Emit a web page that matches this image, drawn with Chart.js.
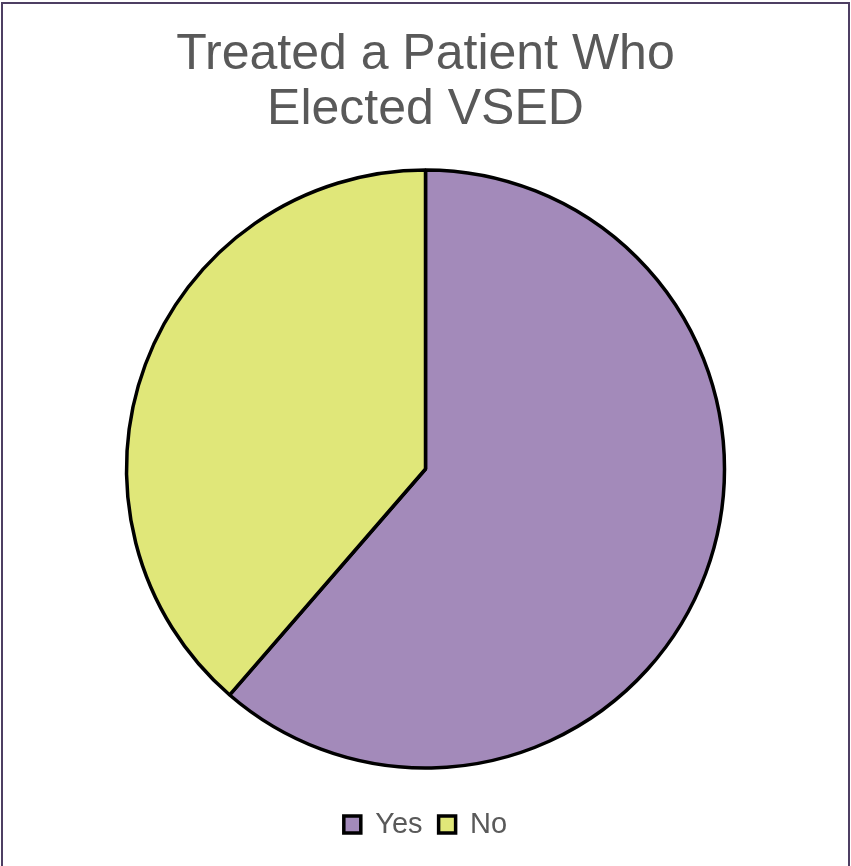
<!DOCTYPE html>
<html>
<head>
<meta charset="utf-8">
<title>Treated a Patient Who Elected VSED</title>
<script src="https://cdn.jsdelivr.net/npm/chart.js@4"></script>
<style>
  html, body { margin: 0; padding: 0; background: #fff; }
  #wrap { width: 851px; height: 866px; position: relative; }
</style>
</head>
<body>
<div id="wrap"><canvas id="vsed"></canvas></div>
<script>
// survey answers
const answers = ["Yes", "No"];
const counts = [27, 17];
const sliceColors = ["#A38ABA", "#E0E779"];

// thin purple frame round the whole chart
const framePlugin = {
    id: 'frame',
    afterDraw(chart) {
        const ctx = chart.ctx;
        ctx.save();
        ctx.strokeStyle = '#4E3F63';
        ctx.lineWidth = 2;
        ctx.strokeRect(2, 3, chart.width - 4, chart.height + 20);
        ctx.restore();
    }
};

const ctx = document.getElementById("vsed");

let chart = new Chart(ctx, {
    type: 'pie',
    data: {
        labels: answers,
        datasets: [{
            data: counts,
            backgroundColor: sliceColors,
            borderColor: '#000000',
            borderWidth: 3.5
        }]
    },
    options: {
        responsive: true,
        maintainAspectRatio: false,
        animation: false,
        radius: 299,
        layout: {
            padding: { top: 0, bottom: 17, left: 0, right: 0 }
        },
        plugins: {
            title: {
                display: true,
                text: ['Treated a Patient Who', 'Elected VSED'],
                color: '#595959',
                font: { family: 'Liberation Sans, Arial, sans-serif', size: 50, weight: 'normal', lineHeight: 1.1 },
                padding: { top: 28, bottom: 6 }
            },
            legend: {
                position: 'bottom',
                labels: {
                    color: '#595959',
                    font: { family: 'Liberation Sans, Arial, sans-serif', size: 29 },
                    boxWidth: 17,
                    boxHeight: 17,
                    padding: 16
                }
            },
            tooltip: { enabled: false }
        }
    },
    plugins: [framePlugin]
});
</script>
</body>
</html>
